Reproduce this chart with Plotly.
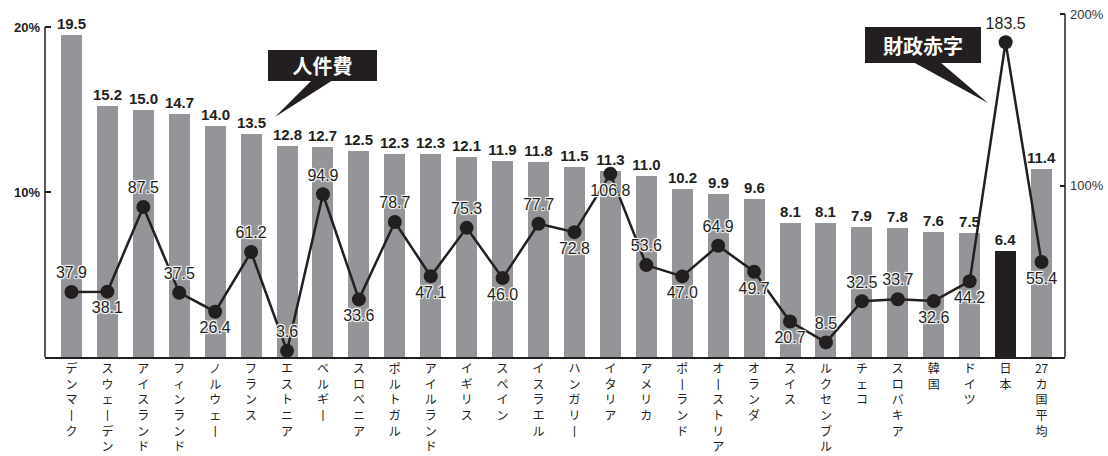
import plotly.graph_objects as go

# 国別データ
categories = ["デンマーク", "スウェーデン", "アイスランド", "フィンランド", "ノルウェー", "フランス",
              "エストニア", "ベルギー", "スロベニア", "ポルトガル", "アイルランド", "イギリス",
              "スペイン", "イスラエル", "ハンガリー", "イタリア", "アメリカ", "ポーランド",
              "オーストリア", "オランダ", "スイス", "ルクセンブルグ", "チェコ", "スロバキア",
              "韓国", "ドイツ", "日本", "27カ国平均"]
# 人件費（左軸, %）
labor_cost = [19.5, 15.2, 15.0, 14.7, 14.0, 13.5, 12.8, 12.7, 12.5, 12.3, 12.3, 12.1,
              11.9, 11.8, 11.5, 11.3, 11.0, 10.2, 9.9, 9.6, 8.1, 8.1, 7.9, 7.8,
              7.6, 7.5, 6.4, 11.4]
# 財政赤字（右軸, %）
deficit = [37.9, 38.1, 87.5, 37.5, 26.4, 61.2, 3.6, 94.9, 33.6, 78.7, 47.1, 75.3,
           46.0, 77.7, 72.8, 106.8, 53.6, 47.0, 64.9, 49.7, 20.7, 8.5, 32.5, 33.7,
           32.6, 44.2, 183.5, 55.4]
# 折れ線ラベルの上下
deficit_label_side = ["top", "bottom", "top", "top", "bottom", "top", "top", "top", "bottom",
                      "top", "bottom", "top", "bottom", "top", "bottom", "bottom", "top",
                      "bottom", "top", "bottom", "bottom", "top", "top", "top", "bottom",
                      "bottom", "top", "bottom"]
left_ticks = [10, 20]
right_ticks = [100, 200]

W, H = 1108, 456
L, R, T, B = 45, 1065, 10, 357          # plot area in pixels
LEFT_MAX = (B - T) / 16.5               # 16.5 px per 1%
RIGHT_MAX = (B - T) / 1.715             # 1.715 px per 1%

GRAY = "#939598"
INK = "#231f20"
HALO = "1px 1px 1px white, -1px -1px 1px white, 1px -1px 1px white, -1px 1px 1px white, 0 0 2px white"
NUMFONT = "Liberation Sans, Arial, sans-serif"
JP = "Noto Sans CJK JP, sans-serif"


def vertical(label):
    """縦書き風のラベル（数字はまとめて横向き、長音は縦棒）"""
    parts, buf = [], ""
    for ch in label:
        if ch.isdigit():
            buf += ch
            continue
        if buf:
            parts.append(buf)
            buf = ""
        parts.append("丨" if ch == "ー" else ch)
    if buf:
        parts.append(buf)
    return "<br>".join(parts)


def px(x, y):
    return (x - L) / (R - L), (B - y) / (B - T)


bar_colors = [INK if c == "日本" else GRAY for c in categories]

fig = go.Figure()
fig.add_trace(go.Bar(
    x=categories, y=labor_cost, yaxis="y",
    marker=dict(color=bar_colors, line=dict(width=0)),
    width=0.585,
    text=[f"{v:.1f}" for v in labor_cost],
    textposition="outside", constraintext="none", cliponaxis=False,
    textfont=dict(family=NUMFONT, size=15, color=INK, weight="bold", shadow=HALO),
    hoverinfo="skip",
))
fig.add_trace(go.Scatter(
    x=categories, y=deficit, yaxis="y2",
    mode="lines+markers+text",
    line=dict(color=INK, width=2.5),
    marker=dict(color=INK, size=14),
    text=[f"{v:.1f}" for v in deficit],
    textposition=[f"{s} center" for s in deficit_label_side],
    textfont=dict(family=NUMFONT, size=16, color=INK, shadow=HALO),
    cliponaxis=False,
    hoverinfo="skip",
))

# 吹き出し
shapes = []
annotations = []
callouts = [
    ("人件費", (268, 50, 377, 81), [(312, 80), (333, 80), (275, 117)]),
    ("財政赤字", (865, 27, 981, 63), [(913, 62), (940, 62), (988, 103)]),
]
for text, (x0, y0, x1, y1), tri in callouts:
    pts = [px(a, b) for a, b in tri]
    path = "M {} {} L {} {} L {} {} Z".format(*[v for p in pts for v in p])
    shapes.append(dict(type="path", xref="paper", yref="paper", path=path,
                       fillcolor=INK, line=dict(width=0)))
    cx, cy = px((x0 + x1) / 2, (y0 + y1) / 2)
    annotations.append(dict(
        xref="paper", yref="paper", x=cx, y=cy, xanchor="center", yanchor="middle",
        text=text, showarrow=False, bgcolor=INK, borderpad=0, borderwidth=0,
        width=x1 - x0, height=y1 - y0,
        font=dict(family=JP, size=20, color="white", weight="bold"),
    ))

# 左右の軸線
shapes.append(dict(type="line", xref="paper", yref="y", x0=0, x1=0, y0=0, y1=max(left_ticks),
                   line=dict(color=INK, width=1.5)))
shapes.append(dict(type="line", xref="paper", yref="y2", x0=1, x1=1, y0=0, y1=max(right_ticks),
                   line=dict(color=INK, width=1.5)))

n = len(categories)
fig.update_layout(
    width=W, height=H,
    margin=dict(l=L, r=W - R, t=T, b=H - B, autoexpand=False),
    paper_bgcolor="white", plot_bgcolor="white",
    showlegend=False,
    xaxis=dict(
        type="category", automargin=False,
        range=[-0.5 - 8.5 / 35.93, n - 0.5 + 5.5 / 35.93],
        tickvals=categories, ticktext=[vertical(c) for c in categories],
        tickangle=0, ticks="", showgrid=False, zeroline=False,
        showline=True, linecolor=INK, linewidth=1.5,
        tickfont=dict(family=JP, size=12, color=INK),
        fixedrange=True,
    ),
    yaxis=dict(
        range=[0, LEFT_MAX], tickvals=left_ticks, ticktext=[f"{v}%" for v in left_ticks],
        ticks="inside", ticklen=6, tickwidth=1.5, tickcolor=INK, automargin=False,
        showgrid=False, zeroline=False, showline=False,
        tickfont=dict(family=NUMFONT, size=13, color=INK, weight="bold"),
        ticklabelstandoff=4,
    ),
    yaxis2=dict(
        range=[0, RIGHT_MAX], overlaying="y", side="right", automargin=False,
        tickvals=right_ticks, ticktext=[f"{v}%" for v in right_ticks],
        ticks="inside", ticklen=5, tickwidth=1.5, tickcolor=INK,
        showgrid=False, zeroline=False, showline=False,
        tickfont=dict(family=NUMFONT, size=13, color="#333333"),
        ticklabelstandoff=4,
    ),
    shapes=shapes,
    annotations=annotations,
    bargap=0,
)

fig.write_html("out.html")
